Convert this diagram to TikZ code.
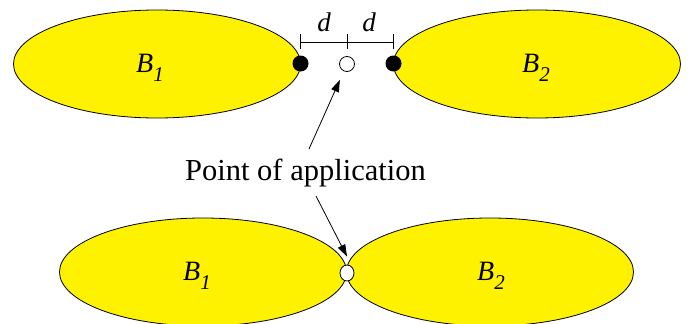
\documentclass[tikz,border=0pt]{standalone}
\usepackage{fontspec}
\setmainfont{Liberation Serif}
\usetikzlibrary{shapes.geometric,arrows.meta}
\newcommand\bodylabel[2]{#1\raisebox{-9pt}{\fontsize{21}{23}\selectfont #2}}
\begin{document}
\begin{tikzpicture}[x=1pt,y=-1pt,
  body/.style={ellipse, draw=black, line width=0.8pt, fill=yellow,
    minimum width=287pt, minimum height=108pt, inner sep=0pt},
  blabel/.style={inner sep=0pt, font=\fontsize{28}{30}\selectfont\itshape},
  contact/.style={circle, fill=black, minimum size=16pt, inner sep=0pt},
  apoint/.style={circle, draw=black, line width=0.8pt, fill=white, minimum size=15pt, inner sep=0pt},
  pointer/.style={line width=0.8pt, -{Triangle[length=12pt,width=8pt]}},
  dlabel/.style={inner sep=0pt, font=\fontsize{27}{29}\selectfont\itshape},
  tick/.style={line width=0.8pt}]
\useasboundingbox (0,0) rectangle (697,324);
\clip (0,0) rectangle (697,324);
% top
\node[body] (tb1) at (157,64) {};
\node[body] (tb2) at (537,64) {};
\node[blabel] (tl1) at (150,68) {\bodylabel{B}{1}};
\node[blabel] (tl2) at (536,68) {\bodylabel{B}{2}};
\node[contact] (d1) at (300.5,63.5) {};
\node[contact] (d2) at (393.5,63.5) {};
\node[apoint] (c1) at (347,64) {};
% bracket
\coordinate (bl) at (300,42);
\coordinate (bm) at (347,42);
\coordinate (br) at (393,42);
\draw[tick] (bl) -- (br);
\draw[tick] ([yshift=8pt]bl) -- ([yshift=-7pt]bl);
\draw[tick] ([yshift=8pt]bm) -- ([yshift=-7pt]bm);
\draw[tick] ([yshift=8pt]br) -- ([yshift=-7pt]br);
\node[dlabel, anchor=base] (dd1) at (324,31) {d};
\node[dlabel, anchor=base] (dd2) at (369,31) {d};
% bottom
\node[body] (bb1) at (203,272) {};
\node[body] (bb2) at (490,272) {};
\node[blabel] (bl1) at (197,276) {\bodylabel{B}{1}};
\node[blabel] (bl2) at (491,276) {\bodylabel{B}{2}};
\node[apoint, minimum width=14pt, minimum height=16pt, ellipse] (c2) at (347,273) {};
% text and arrows
\node[anchor=base west, inner sep=0pt, font=\fontsize{30.5}{34}\selectfont] (txt) at (185,180) {Point of application};
\coordinate (s1) at (309,149);
\coordinate (s2) at (316,196);
\draw[pointer, shorten >=9.5pt] (s1) -- (c1);
\draw[pointer] (s2) -- ([yshift=8pt]c2.north);
\end{tikzpicture}
\end{document}
